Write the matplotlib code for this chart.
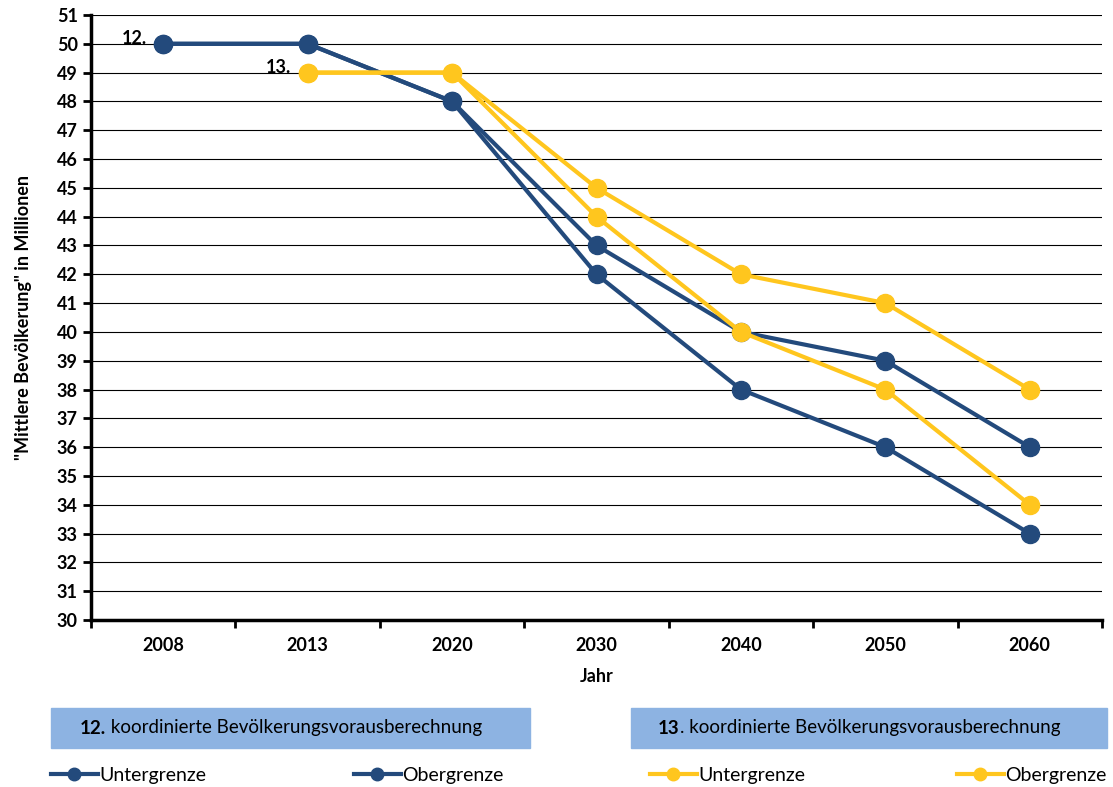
import matplotlib
matplotlib.use("Agg")
import matplotlib.pyplot as plt
import numpy as np
from matplotlib.patches import Rectangle
from matplotlib.lines import Line2D

plt.rcParams['font.family'] = ['Lato', 'DejaVu Sans']

jahre = ["2008", "2013", "2020", "2030", "2040", "2050", "2060"]
unter_12 = [50, 50, 48, 42, 38, 36, 33]
ober_12 = [50, 50, 48, 43, 40, 39, 36]
unter_13 = [np.nan, 49, 49, 44, 40, 38, 34]
ober_13 = [np.nan, 49, 49, 45, 42, 41, 38]

blau = "#234a7c"
gelb = "#ffc61e"
box_farbe = "#8db3e2"

fig = plt.figure(figsize=(11.13, 7.87), dpi=100)
ax = fig.add_axes([91 / 1113, 1 - 620 / 787, (1102 - 91) / 1113, (620 - 15) / 787])

x = np.arange(len(jahre))
stil = dict(lw=3, marker="o", ms=13, solid_capstyle="round")
l1, = ax.plot(x, unter_12, color=blau, **stil)
l2, = ax.plot(x, ober_12, color=blau, **stil)
l3, = ax.plot(x, unter_13, color=gelb, **stil)
l4, = ax.plot(x, ober_13, color=gelb, **stil)

ax.annotate("12.", (x[0], unter_12[0]), xytext=(-12, 4), textcoords="offset points",
            ha="right", va="center", fontsize=13, fontweight="bold")
ax.annotate("13.", (x[1], unter_13[1]), xytext=(-12, 4), textcoords="offset points",
            ha="right", va="center", fontsize=13, fontweight="bold")

ax.set_xlim(-0.5, len(jahre) - 0.5)
ax.set_ylim(30, 51)
ax.set_yticks(range(30, 52))
ax.set_xticks(x)
ax.set_xticklabels(jahre, fontsize=13, fontweight="bold")
ax.set_xticks(np.arange(-0.5, len(jahre)), minor=True)
ax.tick_params(axis="x", which="major", length=0, pad=12)
ax.tick_params(axis="x", which="minor", length=6, width=2)
ax.tick_params(axis="y", length=6, width=2, labelsize=13)
for lab in ax.get_yticklabels():
    lab.set_fontweight("bold")

ax.grid(axis="y", color="black", lw=0.8)
ax.set_axisbelow(True)
for s in ["top", "right"]:
    ax.spines[s].set_visible(False)
ax.spines["left"].set_linewidth(2.5)
ax.spines["bottom"].set_linewidth(2.5)

ax.set_xlabel("Jahr", fontsize=13, fontweight="bold", labelpad=10)
ax.set_ylabel('"Mittlere Bevölkerung" in Millionen', fontsize=13, fontweight="bold", labelpad=18)

# Kästen über der Legende
for x0, x1, nr, rest in [(51, 530, "12.", " koordinierte Bevölkerungsvorausberechnung"),
                         (631, 1107, "13", ". koordinierte Bevölkerungsvorausberechnung")]:
    fig.patches.append(Rectangle((x0 / 1113, 1 - 748 / 787), (x1 - x0) / 1113, 40 / 787,
                                 transform=fig.transFigure, color=box_farbe, zorder=0))
    t1 = fig.text(0, 1 - 728 / 787, nr, fontsize=13.5, fontweight="bold", va="center")
    t2 = fig.text(0, 1 - 728 / 787, rest, fontsize=13.5, va="center")
    fig.canvas.draw()
    r = fig.canvas.get_renderer()
    w1 = t1.get_window_extent(r).width
    w2 = t2.get_window_extent(r).width
    start = (x0 + x1) / 2 - (w1 + w2) / 2 - 10
    t1.set_x(start / 1113)
    t2.set_x((start + w1) / 1113)

# Legende
for linie, name, xpos in [(l1, "Untergrenze", 51), (l2, "Obergrenze", 354),
                          (l3, "Untergrenze", 650), (l4, "Obergrenze", 957)]:
    h = Line2D([], [], color=linie.get_color(), lw=3, marker="o", ms=9)
    fig.legend([h], [name], loc="center left", bbox_to_anchor=(xpos / 1113, 1 - 775 / 787),
               frameon=False, fontsize=14, handlelength=2.4, handletextpad=0.1,
               borderpad=0, borderaxespad=0)

fig.savefig("out.png", dpi=100)
